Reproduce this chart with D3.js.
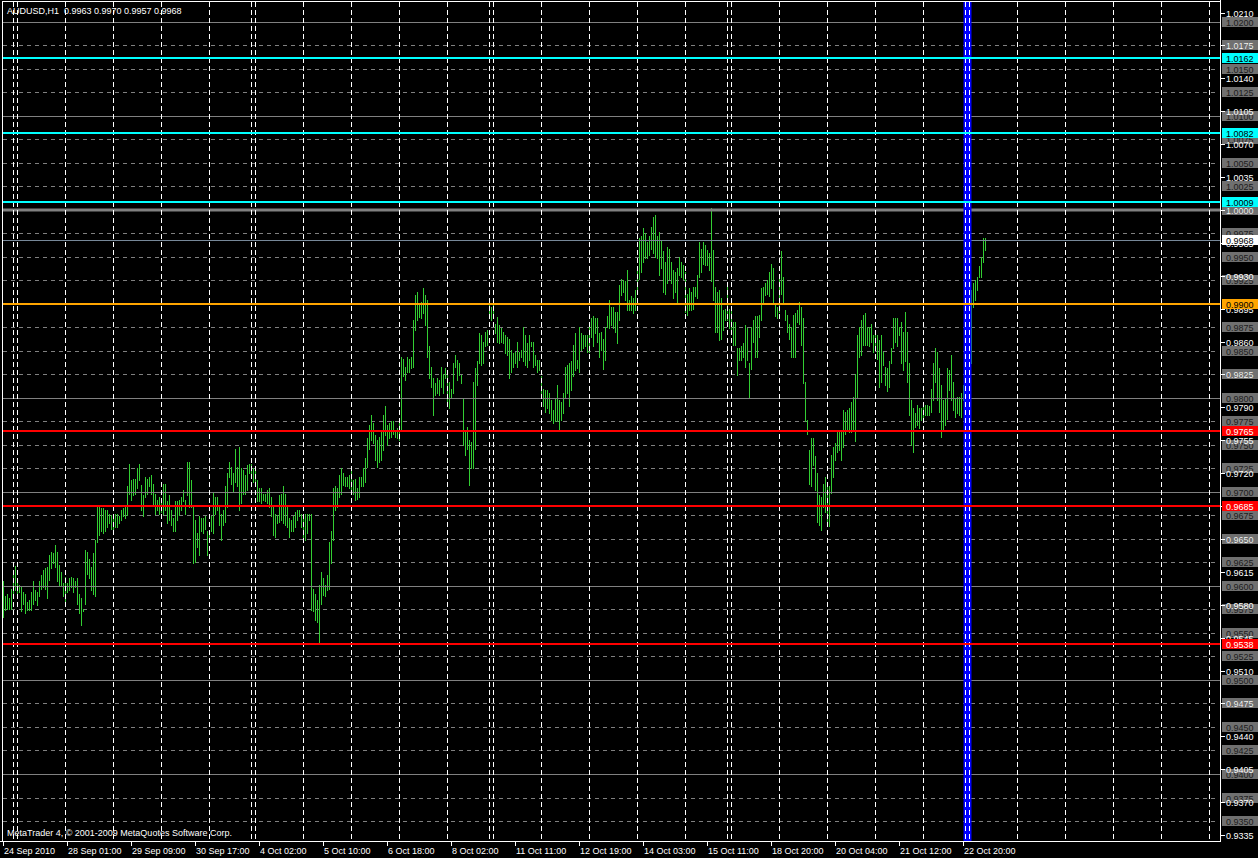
<!DOCTYPE html>
<html><head><meta charset="utf-8">
<script src="https://cdn.jsdelivr.net/npm/d3@7"></script>
<style>html,body{margin:0;padding:0;background:#000;overflow:hidden}svg{display:block}</style>
</head><body>
<svg id="c" width="1258" height="858"></svg>
<script>
// ---------------- DATA ----------------
const symbolTitle = "AUDUSD,H1";
const lastOHLC = ["0.9963", "0.9970", "0.9957", "0.9968"];
const copyrightText = "MetaTrader 4, \u00A9 2001-2009 MetaQuotes Software Corp.";

// hourly bar highs / lows (bar index 0 = 24 Sep 2010 17:00)
const highs = [
0.9605,0.9589,0.9592,0.9587,0.9597,0.9613,0.9621,0.9608,0.9601,0.9599,
0.9594,0.9592,0.9583,0.9585,0.9594,0.9605,0.9596,0.9594,0.9605,0.9612,
0.9617,0.9619,0.9620,0.9633,0.9636,0.9635,0.9644,0.9636,0.9622,0.9615,
0.9603,0.9610,0.9603,0.9608,0.9610,0.9608,0.9605,0.9608,0.9592,0.9587,
0.9576,0.9638,0.9636,0.9629,0.9620,0.9635,0.9649,0.9684,0.9686,0.9683,
0.9683,0.9681,0.9681,0.9677,0.9675,0.9677,0.9677,0.9677,0.9674,0.9681,
0.9683,0.9684,0.9706,0.9730,0.9713,0.9714,0.9714,0.9725,0.9730,0.9707,
0.9697,0.9716,0.9714,0.9716,0.9718,0.9709,0.9698,0.9691,0.9695,0.9693,
0.9709,0.9709,0.9690,0.9697,0.9681,0.9672,0.9690,0.9690,0.9691,0.9695,
0.9702,0.9691,0.9732,0.9732,0.9713,0.9686,0.9670,0.9656,0.9674,0.9672,
0.9672,0.9674,0.9659,0.9659,0.9674,0.9700,0.9695,0.9695,0.9684,0.9677,
0.9681,0.9706,0.9720,0.9732,0.9727,0.9720,0.9746,0.9727,0.9748,0.9725,
0.9723,0.9718,0.9729,0.9730,0.9730,0.9725,0.9722,0.9713,0.9704,0.9704,
0.9698,0.9698,0.9702,0.9704,0.9695,0.9684,0.9677,0.9675,0.9697,0.9698,
0.9706,0.9698,0.9684,0.9672,0.9670,0.9674,0.9679,0.9681,0.9681,0.9677,
0.9675,0.9677,0.9677,0.9677,0.9677,0.9597,0.9592,0.9585,0.9601,0.9615,
0.9608,0.9601,0.9612,0.9647,0.9659,0.9704,0.9706,0.9704,0.9718,0.9725,
0.9720,0.9716,0.9716,0.9718,0.9722,0.9713,0.9714,0.9704,0.9716,0.9716,
0.9725,0.9736,0.9757,0.9771,0.9782,0.9773,0.9761,0.9755,0.9759,0.9764,
0.9782,0.9791,0.9771,0.9773,0.9775,0.9775,0.9764,0.9768,0.9773,0.9844,
0.9842,0.9833,0.9844,0.9842,0.9844,0.9883,0.9910,0.9913,0.9901,0.9902,
0.9917,0.9910,0.9904,0.9855,0.9833,0.9821,0.9816,0.9821,0.9819,0.9833,
0.9826,0.9832,0.9825,0.9817,0.9810,0.9837,0.9846,0.9840,0.9837,0.9824,
0.9800,0.9764,0.9769,0.9755,0.9753,0.9817,0.9832,0.9839,0.9869,0.9867,
0.9860,0.9870,0.9872,0.9901,0.9897,0.9904,0.9879,0.9886,0.9878,
0.9874,0.9870,0.9867,0.9865,0.9863,0.9851,0.9848,0.9849,0.9860,0.9849,
0.9851,0.9876,0.9867,0.9858,0.9867,0.9860,0.9860,0.9846,0.9840,0.9840,
0.9823,0.9810,0.9808,0.9808,0.9805,0.9798,0.9787,0.9800,0.9814,0.9798,
0.9796,0.9805,0.9833,0.9835,0.9837,0.9839,0.9856,0.9869,0.9840,0.9876,
0.9869,0.9867,0.9867,0.9867,0.9876,0.9885,0.9887,0.9885,0.9885,0.9869,
0.9870,0.9863,0.9876,0.9887,0.9904,0.9897,0.9897,0.9892,0.9892,0.9920,
0.9927,0.9926,0.9924,0.9936,0.9904,0.9908,0.9906,0.9915,0.9936,0.9970,
0.9972,0.9981,0.9975,0.9966,0.9972,0.9982,0.9993,0.9995,0.9972,0.9977,
0.9968,0.9956,0.9945,0.9961,0.9959,0.9945,0.9936,0.9934,0.9938,0.9950,
0.9945,0.9941,0.9934,0.9911,0.9917,0.9913,0.9918,0.9918,0.9931,0.9966,
0.9959,0.9966,0.9963,0.9957,0.9954,1.0002,0.9957,0.9918,0.9913,0.9915,
0.9906,0.9894,0.9895,0.9922,0.9895,0.9895,0.9881,0.9881,0.9853,0.9853,
0.9855,0.9858,0.9878,0.9874,0.9837,0.9876,0.9883,0.9887,0.9887,0.9888,
0.9917,0.9918,0.9922,0.9926,0.9934,0.9943,0.9938,0.9899,0.9897,0.9929,
0.9956,0.9929,0.9894,0.9888,0.9879,0.9876,0.9888,0.9890,0.9894,0.9902,
0.9897,0.9885,0.9817,0.9777,0.9745,0.9757,0.9757,0.9738,0.9720,0.9697,
0.9695,0.9709,0.9716,0.9711,0.9706,0.9739,0.9748,0.9752,0.9764,0.9766,
0.9766,0.9787,0.9785,0.9787,0.9789,0.9796,0.9801,0.9826,0.9867,0.9876,
0.9883,0.9888,0.9890,0.9876,0.9876,0.9879,0.9867,0.9870,0.9867,0.9862,
0.9867,0.9849,0.9833,0.9832,0.9839,0.9853,0.9885,0.9885,0.9885,0.9876,
0.9881,0.9870,0.9892,0.9870,0.9837,0.9798,0.9789,0.9784,0.9793,0.9789,
0.9789,0.9793,0.9793,0.9793,0.9791,0.9810,0.9837,0.9853,0.9849,0.9832,
0.9814,0.9798,0.9800,0.9832,0.9830,0.9846,0.9817,0.9800,0.9801,0.9801,
0.9805,0.9814,0.9851,0.9855,0.9851,0.9915,0.9922,0.9926,0.9929,0.9940,
0.9950,0.9970,0.9970
];
const lows = [
0.9567,0.9574,0.9576,0.9576,0.9576,0.9587,0.9596,0.9587,0.9594,0.9573,
0.9581,0.9571,0.9574,0.9574,0.9574,0.9581,0.9585,0.9580,0.9589,0.9597,
0.9599,0.9597,0.9587,0.9606,0.9619,0.9624,0.9620,0.9605,0.9601,0.9601,
0.9589,0.9583,0.9594,0.9596,0.9599,0.9594,0.9599,0.9581,0.9571,0.9558,
0.9573,0.9581,0.9613,0.9608,0.9596,0.9592,0.9589,0.9647,0.9654,0.9659,
0.9656,0.9659,0.9663,0.9667,0.9661,0.9656,0.9663,0.9663,0.9667,0.9670,
0.9674,0.9672,0.9675,0.9698,0.9691,0.9697,0.9698,0.9704,0.9713,0.9681,
0.9674,0.9695,0.9698,0.9706,0.9698,0.9686,0.9677,0.9681,0.9677,0.9679,
0.9677,0.9681,0.9667,0.9670,0.9665,0.9658,0.9658,0.9670,0.9676,0.9681,
0.9690,0.9677,0.9697,0.9684,0.9684,0.9624,0.9626,0.9642,0.9633,0.9658,
0.9656,0.9661,0.9633,0.9649,0.9659,0.9656,0.9677,0.9681,0.9665,0.9649,
0.9665,0.9668,0.9684,0.9716,0.9709,0.9700,0.9711,0.9706,0.9681,0.9688,
0.9698,0.9698,0.9702,0.9720,0.9718,0.9711,0.9709,0.9690,0.9690,0.9688,
0.9691,0.9690,0.9688,0.9684,0.9674,0.9654,0.9652,0.9667,0.9668,0.9670,
0.9667,0.9665,0.9663,0.9652,0.9659,0.9658,0.9663,0.9670,0.9674,0.9663,
0.9652,0.9649,0.9656,0.9670,0.9574,0.9573,0.9564,0.9562,0.9539,0.9581,
0.9590,0.9589,0.9596,0.9597,0.9624,0.9649,0.9681,0.9684,0.9695,0.9698,
0.9707,0.9706,0.9706,0.9704,0.9702,0.9698,0.9691,0.9693,0.9695,0.9706,
0.9706,0.9711,0.9727,0.9746,0.9755,0.9752,0.9734,0.9727,0.9732,0.9734,
0.9745,0.9761,0.9750,0.9757,0.9759,0.9762,0.9759,0.9757,0.9755,0.9766,
0.9823,0.9819,0.9828,0.9828,0.9832,0.9833,0.9872,0.9883,0.9886,0.9885,
0.9890,0.9878,0.9844,0.9821,0.9812,0.9782,0.9803,0.9805,0.9803,0.9812,
0.9805,0.9821,0.9791,0.9789,0.9800,0.9805,0.9833,0.9819,0.9824,0.9816,
0.9750,0.9739,0.9746,0.9707,0.9725,0.9725,0.9746,0.9814,0.9837,0.9835,
0.9837,0.9855,0.9856,0.9885,0.9883,0.9888,0.9869,0.9860,0.9858,
0.9860,0.9858,0.9848,0.9846,0.9821,0.9828,0.9833,0.9837,0.9833,0.9840,
0.9844,0.9839,0.9835,0.9833,0.9840,0.9855,0.9833,0.9835,0.9828,0.9830,
0.9803,0.9791,0.9785,0.9789,0.9784,0.9777,0.9773,0.9775,0.9775,0.9766,
0.9777,0.9784,0.9800,0.9805,0.9792,0.9808,0.9823,0.9830,0.9832,0.9828,
0.9851,0.9853,0.9855,0.9849,0.9849,0.9865,0.9855,0.9869,0.9860,0.9844,
0.9851,0.9831,0.9840,0.9876,0.9874,0.9878,0.9874,0.9870,0.9858,0.9883,
0.9910,0.9913,0.9904,0.9894,0.9894,0.9894,0.9890,0.9894,0.9911,0.9927,
0.9934,0.9945,0.9949,0.9949,0.9952,0.9959,0.9954,0.9950,0.9949,0.9931,
0.9938,0.9913,0.9911,0.9922,0.9927,0.9922,0.9906,0.9913,0.9901,0.9931,
0.9929,0.9927,0.9892,0.9888,0.9894,0.9894,0.9895,0.9908,0.9906,0.9929,
0.9934,0.9943,0.9941,0.9941,0.9936,0.9924,0.9904,0.9870,0.9870,0.9862,
0.9863,0.9872,0.9883,0.9883,0.9874,0.9869,0.9856,0.9856,0.9824,0.9840,
0.9840,0.9844,0.9833,0.9840,0.9800,0.9831,0.9860,0.9844,0.9844,0.9865,
0.9883,0.9902,0.9910,0.9911,0.9908,0.9917,0.9901,0.9887,0.9885,0.9892,
0.9911,0.9901,0.9883,0.9870,0.9863,0.9844,0.9844,0.9844,0.9881,0.9879,
0.9856,0.9816,0.9775,0.9762,0.9709,0.9706,0.9729,0.9702,0.9668,0.9665,
0.9660,0.9684,0.9679,0.9668,0.9664,0.9699,0.9716,0.9734,0.9743,0.9745,
0.9734,0.9748,0.9762,0.9766,0.9764,0.9764,0.9766,0.9754,0.9801,0.9844,
0.9846,0.9856,0.9856,0.9856,0.9855,0.9860,0.9849,0.9851,0.9842,0.9812,
0.9817,0.9835,0.9814,0.9807,0.9812,0.9837,0.9853,0.9860,0.9855,0.9867,
0.9837,0.9830,0.9839,0.9817,0.9782,0.9750,0.9743,0.9769,0.9771,0.9768,
0.9777,0.9778,0.9782,0.9782,0.9782,0.9785,0.9798,0.9817,0.9798,0.9785,
0.9759,0.9766,0.9771,0.9778,0.9808,0.9798,0.9787,0.9780,0.9784,0.9782,
0.9780,0.9798,0.9812,0.9823,0.9826,0.9837,0.9897,0.9904,0.9915,0.9929,
0.9929,0.9945,0.9957
];

// time axis labels (bar index of each label)
const timeLabelBars = [0,32,64,96,128,160,192,224,256,288,320,352,384,416,448,480];
const timeLabels = ["24 Sep 2010","28 Sep 01:00","29 Sep 09:00","30 Sep 17:00","4 Oct 02:00",
  "5 Oct 10:00","6 Oct 18:00","8 Oct 02:00","11 Oct 11:00","12 Oct 19:00","14 Oct 03:00",
  "15 Oct 11:00","18 Oct 20:00","20 Oct 04:00","21 Oct 12:00","22 Oct 20:00"];

// vertical grid (day starts) and week separators, by bar index
const dayGridBars = [7,31,55,79,103,126,150,174,198,222,245,269,293,317,341,364,388,412,436,460,483,507,531,555,579,603];
const weekSepBars = [5,124,243,362,481];

// price scale tick labels
const priceTicks = [1.0210,1.0175,1.0140,1.0105,1.0070,1.0035,1.0000,0.9965,0.9930,0.9895,
  0.9860,0.9825,0.9790,0.9755,0.9720,0.9685,0.9650,0.9615,0.9580,0.9545,0.9510,0.9475,
  0.9440,0.9405,0.9370,0.9335];

// gray horizontal level lines
const dashedLevels = [1.0175,1.0150,1.0125,1.0075,1.0050,1.0025,0.9975,0.9950,0.9925,0.9875,
  0.9850,0.9825,0.9775,0.9750,0.9725,0.9675,0.9650,0.9625,0.9575,0.9550,0.9525,0.9475,
  0.9450,0.9425,0.9375,0.9350];
const solidLevels = [1.0200,1.0100,1.0000,0.9900,0.9800,0.9700,0.9600,0.9500,0.9400];

// coloured levels
const cyanLevels = [1.0162, 1.0082, 1.0009];
const orangeLevels = [0.9900];
const redLevels = [0.9765, 0.9685, 0.9538];
const bidPrice = 0.9968;
const blueLineBar = 482;

// ---------------- DRAWING ----------------
const svg = d3.select("#c");
const FONT = "'Liberation Sans', Arial, sans-serif";
const plotL = 3, plotR = 1220, plotT = 2, plotB = 841;

const x = d3.scaleLinear().domain([0, 608]).range([3.5, 1219.5]);
const y = d3.scaleLinear().domain([0.9335, 1.0210]).range([835.1, 12.6]);
const ry = p => Math.round(y(p)) + 0.5;

svg.append("rect").attr("width", 1258).attr("height", 858).attr("fill", "#000");

const defs = svg.append("defs");
defs.append("clipPath").attr("id", "plotclip").append("rect")
  .attr("x", plotL).attr("y", plotT).attr("width", plotR - plotL).attr("height", plotB - plotT);
const plot = svg.append("g").attr("clip-path", "url(#plotclip)");

// dashed gray levels
plot.append("g").selectAll("line").data(dashedLevels).join("line")
  .attr("x1", plotL).attr("x2", plotR - 2).attr("y1", ry).attr("y2", ry)
  .attr("stroke", "#808080").attr("stroke-width", 1).attr("stroke-dasharray", "4,4");

// bars
plot.append("g").selectAll("rect").data(highs.map((h, i) => ({i, h, l: lows[i]}))).join("rect")
  .attr("x", d => x(d.i) - 0.5)
  .attr("y", d => Math.round(y(d.h)))
  .attr("width", 1)
  .attr("height", d => Math.max(1, Math.round(y(d.l)) - Math.round(y(d.h)) + 1))
  .attr("fill", "#32CD32");

// solid gray levels
plot.append("g").selectAll("line").data(solidLevels).join("line")
  .attr("x1", plotL).attr("x2", plotR)
  .attr("y1", d => d === 1.0 ? Math.round(y(d)) : ry(d))
  .attr("y2", d => d === 1.0 ? Math.round(y(d)) : ry(d))
  .attr("stroke", "#808080").attr("stroke-width", d => d === 1.0 ? 3 : 1);

// bid line
plot.append("line").attr("x1", plotL).attr("x2", plotR).attr("y1", ry(bidPrice)).attr("y2", ry(bidPrice))
  .attr("stroke", "#778899").attr("stroke-width", 1);

// vertical dashed grid
plot.append("g").selectAll("line").data(dayGridBars.concat(weekSepBars)).join("line")
  .attr("x1", d => x(d)).attr("x2", d => x(d)).attr("y1", plotT).attr("y2", plotB)
  .attr("stroke", "#fff").attr("stroke-width", 1).attr("stroke-dasharray", "5,3");

// blue vertical line
plot.append("line").attr("x1", x(blueLineBar)).attr("x2", x(blueLineBar))
  .attr("y1", plotT).attr("y2", plotB).attr("stroke", "#0000FF").attr("stroke-width", 8);
plot.append("g").selectAll("line").data([weekSepBars[4], dayGridBars[20]]).join("line")
  .attr("x1", d => x(d)).attr("x2", d => x(d)).attr("y1", plotT).attr("y2", plotB)
  .attr("stroke", "#fff").attr("stroke-width", 1).attr("stroke-dasharray", "5,3");

// coloured horizontal levels
function hlines(levels, color) {
  plot.append("g").selectAll("line").data(levels).join("line")
    .attr("x1", plotL).attr("x2", plotR)
    .attr("y1", d => Math.round(y(d))).attr("y2", d => Math.round(y(d)))
    .attr("stroke", color).attr("stroke-width", 2);
}
hlines(cyanLevels, "#00FFFF");
hlines(orangeLevels, "#FFA500");
hlines(redLevels, "#FF0000");

// frame
const frame = svg.append("g").attr("stroke", "#fff").attr("stroke-width", 1);
frame.append("line").attr("x1", 2.5).attr("x2", 2.5).attr("y1", 1).attr("y2", plotB + 0.5);
frame.append("line").attr("x1", 2).attr("x2", plotR + 1).attr("y1", 1.5).attr("y2", 1.5);
frame.append("line").attr("x1", 0).attr("x2", plotR + 1).attr("y1", plotB + 0.5).attr("y2", plotB + 0.5);
frame.append("line").attr("x1", plotR + 0.5).attr("x2", plotR + 0.5).attr("y1", 0).attr("y2", plotB + 1);

// ---- price scale labels ----
const lab = svg.append("g").attr("font-family", FONT).attr("font-size", "9px");
function boxLabel(levels, bg, fg) {
  const g = lab.append("g").selectAll("g").data(levels).join("g")
    .attr("transform", d => `translate(0,${Math.round(y(d))})`);
  g.append("rect").attr("x", 1222).attr("y", -5).attr("width", 36).attr("height", 10).attr("fill", bg);
  g.append("text").attr("x", 1226).attr("y", 3.5).attr("fill", fg).text(d => d.toFixed(4));
}
boxLabel(dashedLevels.concat(solidLevels), "#707070", "#1c1c1c");

// tick labels (white text)
lab.append("g").selectAll("line").data(priceTicks).join("line")
  .attr("x1", 1221).attr("x2", 1225).attr("y1", ry).attr("y2", ry)
  .attr("stroke", "#fff");
lab.append("g").selectAll("text").data(priceTicks).join("text")
  .attr("x", 1226).attr("y", d => Math.round(y(d)) + 3.5).attr("fill", "#fff")
  .text(d => d.toFixed(4));

boxLabel([bidPrice], "#ffffff", "#000000");
boxLabel(cyanLevels, "#00FFFF", "#000000");
boxLabel(orangeLevels, "#FFA500", "#000000");
boxLabel(redLevels, "#FF0000", "#ffffff");

// ---- time axis ----
const tg = svg.append("g").attr("font-family", FONT).attr("font-size", "9px");
tg.selectAll("line").data(timeLabelBars).join("line")
  .attr("x1", d => x(d)).attr("x2", d => x(d)).attr("y1", plotB).attr("y2", plotB + 5)
  .attr("stroke", "#fff");
tg.selectAll("text").data(timeLabelBars).join("text")
  .attr("x", d => x(d) + 0.5).attr("y", 854).attr("fill", "#fff")
  .text((d, i) => timeLabels[i]);

// ---- title & copyright ----
svg.append("text").attr("x", 7).attr("y", 14).attr("font-family", FONT).attr("font-size", "9px")
  .attr("fill", "#fff").attr("xml:space", "preserve")
  .text(symbolTitle + "  " + lastOHLC.join(" "));
svg.append("text").attr("x", 7).attr("y", 836).attr("font-family", FONT).attr("font-size", "9px")
  .attr("fill", "#fff").text(copyrightText);
</script>
</body></html>
